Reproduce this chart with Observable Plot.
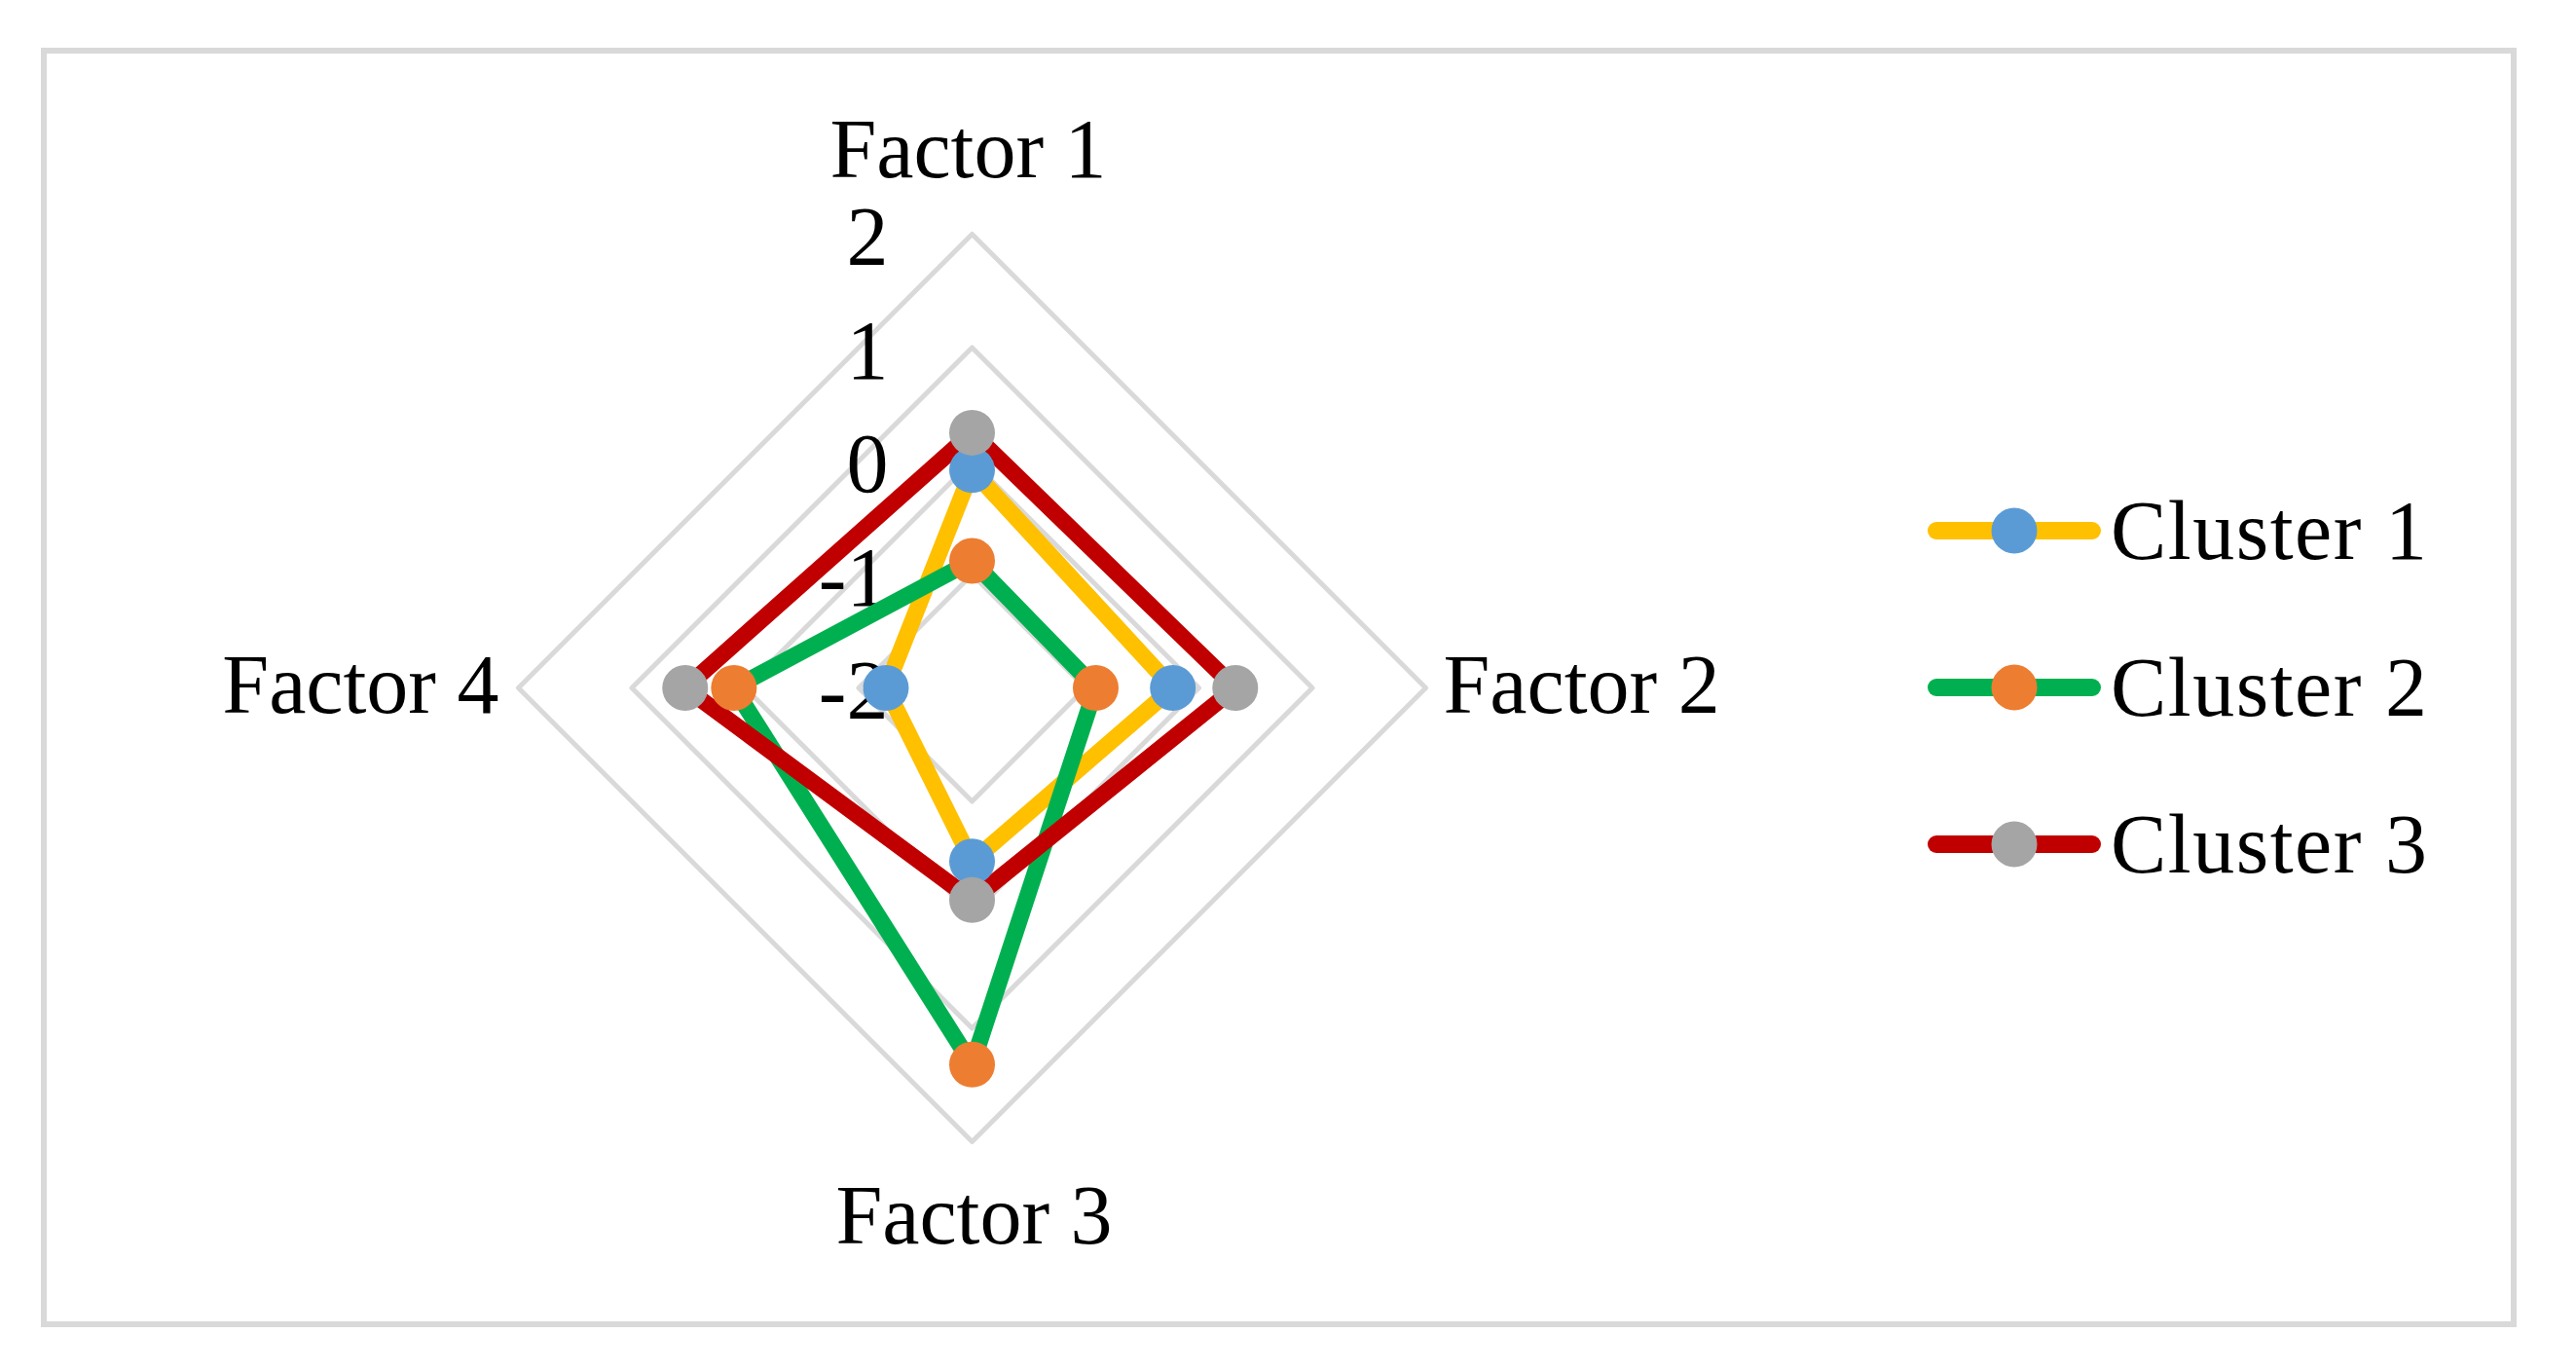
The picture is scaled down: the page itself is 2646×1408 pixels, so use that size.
<!DOCTYPE html>
<html>
<head>
<meta charset="utf-8">
<script src="https://cdn.jsdelivr.net/npm/d3@7"></script>
<script src="https://cdn.jsdelivr.net/npm/@observablehq/plot@0.6"></script>
<style>
  html, body { margin: 0; padding: 0; background: #fff; }
  #wrap { position: relative; width: 2646px; height: 1408px; overflow: hidden; font-family: "Liberation Serif", "Times New Roman", serif; }
  #frame { position: absolute; left: 42px; top: 49px; width: 2543px; height: 1314px; box-sizing: border-box; border: 6px solid #d9d9d9; }
  #chart { position: absolute; left: 0; top: 0; }
  #legend { position: absolute; left: 1971px; top: 464px; }
  .row { display: flex; align-items: center; height: 161px; }
  .row span { font-size: 86px; line-height: 1; margin-left: 7px; color: #000; letter-spacing: 1.5px; }
</style>
</head>
<body>
<div id="wrap">
  <div id="frame"></div>
  <div id="chart"></div>
  <div id="legend"></div>
</div>
<script>
const factors = ["Factor 1", "Factor 2", "Factor 3", "Factor 4"];
const clusters = ["Cluster 1", "Cluster 2", "Cluster 3"];
const cluster1 = [-0.08, -0.23, -0.47, -1.24];
const cluster2 = [-0.88, -0.91, 1.32, 0.10];
const cluster3 = [0.25, 0.32, -0.13, 0.53];
const ticks = [-2, -1, 0, 1, 2];
const lineColors = ["#FFC000", "#00B050", "#C00000"];
const markerColors = ["#5B9BD5", "#ED7D31", "#A5A5A5"];

const W = 2646, H = 1408;
const CX = 998, CY = 706, U = 116.5; // layout: centre and pixels per unit
const rMin = ticks[0];
const angle = i => (i * 2 * Math.PI) / factors.length;
const px = (v, i) => (v - rMin) * Math.sin(angle(i));
const py = (v, i) => (v - rMin) * Math.cos(angle(i));

const series = [cluster1, cluster2, cluster3];
const points = series.flatMap((vals, s) =>
  vals.map((v, i) => ({ cluster: clusters[s], s, factor: factors[i], x: px(v, i), y: py(v, i) })));

const rings = ticks.slice(1).flatMap(t =>
  factors.map((f, i) => ({ t, x: px(t, i), y: py(t, i) })));

const labels = factors.map((f, i) => ({ f, i, x: px(ticks[ticks.length - 1], i), y: py(ticks[ticks.length - 1], i) }));

const fs = 86;
const plot = Plot.plot({
  width: W,
  height: H,
  margin: 0,
  x: { domain: [-CX / U, (W - CX) / U], range: [0, W], axis: null },
  y: { domain: [-(H - CY) / U, CY / U], range: [H, 0], axis: null },
  style: { fontFamily: '"Liberation Serif", "Times New Roman", serif', background: "transparent" },
  marks: [
    Plot.line(rings, { x: "x", y: "y", z: "t", curve: "linear-closed", stroke: "#d9d9d9", strokeWidth: 5 }),
    Plot.text(ticks, { x: () => 0, y: t => t - rMin, text: t => String(t), textAnchor: "end", dx: -86, dy: 4, fontSize: fs, fill: "#000" }),
    Plot.text(labels, { filter: d => d.i === 0, x: "x", y: "y", text: "f", textAnchor: "middle", dx: -4, dy: -86, fontSize: fs, fill: "#000", letterSpacing: 1 }),
    Plot.text(labels, { filter: d => d.i === 2, x: "x", y: "y", text: "f", textAnchor: "middle", dx: 2, dy: 77, fontSize: fs, fill: "#000", letterSpacing: 1 }),
    Plot.text(labels, { filter: d => d.i === 1, x: "x", y: "y", text: "f", textAnchor: "start", dx: 18, dy: -2, fontSize: fs, fill: "#000", letterSpacing: 1 }),
    Plot.text(labels, { filter: d => d.i === 3, x: "x", y: "y", text: "f", textAnchor: "end", dx: -20, dy: -2, fontSize: fs, fill: "#000", letterSpacing: 1 }),
    ...clusters.map((c, s) => Plot.line(points, { filter: d => d.s === s, x: "x", y: "y", curve: "linear-closed", stroke: lineColors[s], strokeWidth: 17, strokeLinejoin: "round" })),
    ...clusters.map((c, s) => Plot.dot(points, { filter: d => d.s === s, x: "x", y: "y", r: 23.5, fill: markerColors[s], stroke: "none" }))
  ]
});
document.getElementById("chart").appendChild(plot);

const legend = document.getElementById("legend");
clusters.forEach((c, s) => {
  const row = document.createElement("div");
  row.className = "row";
  const svgNS = "http://www.w3.org/2000/svg";
  const sw = document.createElementNS(svgNS, "svg");
  sw.setAttribute("width", 190);
  sw.setAttribute("height", 60);
  const ln = document.createElementNS(svgNS, "line");
  ln.setAttribute("x1", 18); ln.setAttribute("x2", 178);
  ln.setAttribute("y1", 30); ln.setAttribute("y2", 30);
  ln.setAttribute("stroke", lineColors[s]);
  ln.setAttribute("stroke-width", 18);
  ln.setAttribute("stroke-linecap", "round");
  const ci = document.createElementNS(svgNS, "circle");
  ci.setAttribute("cx", 98); ci.setAttribute("cy", 30); ci.setAttribute("r", 23.5);
  ci.setAttribute("fill", markerColors[s]);
  sw.appendChild(ln); sw.appendChild(ci);
  const sp = document.createElement("span");
  sp.textContent = c;
  row.appendChild(sw); row.appendChild(sp);
  legend.appendChild(row);
});
</script>
</body>
</html>
